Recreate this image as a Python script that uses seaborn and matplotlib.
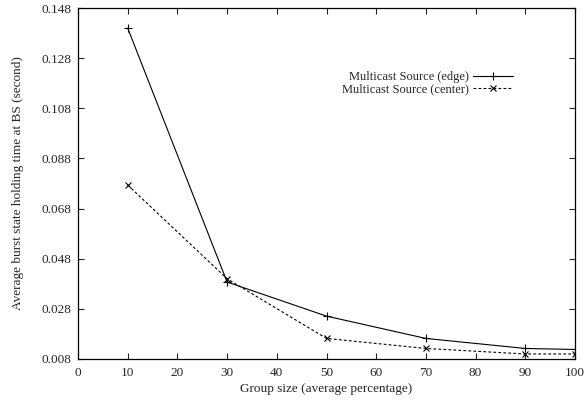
import matplotlib
matplotlib.use("Agg")
import matplotlib.pyplot as plt
import seaborn as sns
import pandas as pd

group_size = [10, 30, 50, 70, 90, 100]
edge = [0.1400, 0.0387, 0.0251, 0.0162, 0.0122, 0.0118]
center = [0.0774, 0.0400, 0.0162, 0.0122, 0.0100, 0.0100]
series_names = ["Multicast Source (edge)", "Multicast Source (center)"]
x_ticks = [0, 10, 20, 30, 40, 50, 60, 70, 80, 90, 100]
y_ticks = [0.008, 0.028, 0.048, 0.068, 0.088, 0.108, 0.128, 0.148]

sns.set_style("ticks")
plt.rcParams['font.family'] = ['Liberation Serif', 'DejaVu Serif']
FS = 9.5
plt.rcParams['font.size'] = FS

df = pd.DataFrame({
    "x": group_size * 2,
    "y": edge + center,
    "series": [series_names[0]] * len(edge) + [series_names[1]] * len(center),
})

fig = plt.figure(figsize=(5.84, 4.04), dpi=100)
ax = fig.add_axes([0.1336, 0.1114, 0.8510, 0.8686])

sns.lineplot(data=df[df.series == series_names[0]], x="x", y="y", ax=ax,
             color="black", lw=0.8, marker="+", markersize=6, mew=0.8,
             mec="black", mfc="black", label=series_names[0])
sns.lineplot(data=df[df.series == series_names[1]], x="x", y="y", ax=ax,
             color="black", lw=0.8, marker="x", markersize=4.5, mew=0.8,
             mec="black", mfc="black",
             linestyle=(0, (2.5, 2)), label=series_names[1])

ax.set_xlim(0, 100)
ax.set_ylim(0.008, 0.148)
ax.set_xticks(x_ticks)
ax.set_yticks(y_ticks)
ax.set_yticklabels([f"{v:.3f}" for v in y_ticks])
ax.tick_params(direction="in", top=True, right=True, length=4, width=0.8,
               labelsize=FS)
ax.tick_params(axis="x", pad=6)
ax.tick_params(axis="y", pad=5)
for s in ax.spines.values():
    s.set_linewidth(0.9)
    s.set_color("black")

ax.set_xlabel("Group size (average percentage)", fontsize=FS, labelpad=3)
ax.set_ylabel("Average burst state holding time at BS (second)", fontsize=FS, labelpad=12)

leg = ax.legend(loc="upper right", bbox_to_anchor=(0.875, 0.82), frameon=False,
                markerfirst=False, fontsize=9, handlelength=3.2,
                handletextpad=0.3, labelspacing=0.0, borderpad=0,
                borderaxespad=0)

fig.savefig("out.png", dpi=100)
